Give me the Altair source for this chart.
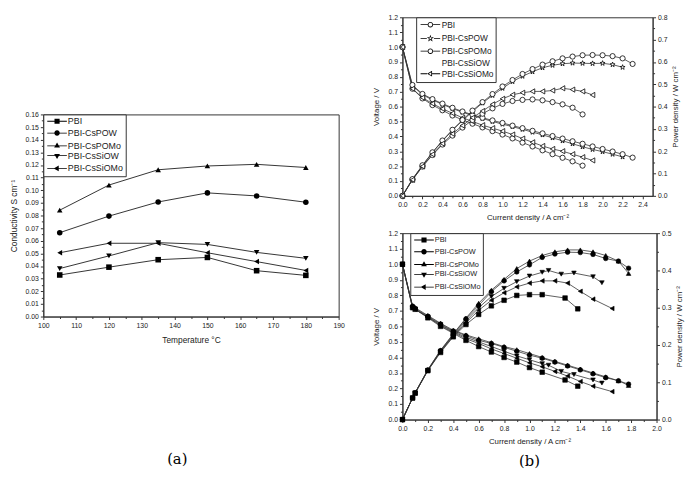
import altair as alt
import pandas as pd

FONT = "Liberation Sans"
SERIES = ["PBI", "PBI-CsPOW", "PBI-CsPOMo", "PBI-CsSiOW", "PBI-CsSiOMo"]

# ---------------- (a) conductivity vs temperature ----------------
temp_c = [105, 120, 135, 150, 165, 180]
a_pbi = [0.0329, 0.0391, 0.0450, 0.0468, 0.0363, 0.0326]
a_cspow = [0.0664, 0.0795, 0.0907, 0.0979, 0.0955, 0.0905]
a_cspomo = [0.0842, 0.1041, 0.1162, 0.1192, 0.1205, 0.1180]
a_cssiow = [0.0380, 0.0480, 0.0585, 0.0571, 0.0508, 0.0461]
a_cssiomo = [0.0505, 0.0580, 0.0580, 0.0505, 0.0435, 0.0365]

# ---------------- (b) top: polarisation / power curves ----------------
t_i_pbi = [0.0, 0.1, 0.2, 0.3, 0.4, 0.5, 0.6, 0.7, 0.8, 0.9, 1.0, 1.1, 1.2, 1.3, 1.4, 1.5, 1.6, 1.7, 1.8]
t_v_pbi = [1.0, 0.72, 0.655, 0.61, 0.575, 0.54, 0.51, 0.485, 0.46, 0.435, 0.412, 0.386, 0.358, 0.332, 0.306, 0.28, 0.256, 0.232, 0.203]
t_p_pbi = [0.0, 0.072, 0.131, 0.183, 0.23, 0.27, 0.306, 0.34, 0.368, 0.392, 0.412, 0.425, 0.43, 0.432, 0.428, 0.42, 0.41, 0.395, 0.365]

t_i_cspow = [0.0, 0.1, 0.2, 0.3, 0.4, 0.5, 0.6, 0.7, 0.8, 0.9, 1.0, 1.1, 1.2, 1.3, 1.4, 1.5, 1.6, 1.7, 1.8, 1.9, 2.0, 2.1, 2.2]
t_v_cspow = [1.0, 0.74, 0.68, 0.645, 0.615, 0.587, 0.562, 0.54, 0.52, 0.5, 0.482, 0.465, 0.447, 0.428, 0.41, 0.39, 0.37, 0.35, 0.33, 0.312, 0.297, 0.28, 0.262]
t_p_cspow = [0.0, 0.074, 0.136, 0.194, 0.246, 0.294, 0.337, 0.378, 0.416, 0.45, 0.482, 0.512, 0.536, 0.556, 0.574, 0.585, 0.592, 0.595, 0.594, 0.593, 0.594, 0.588, 0.576]

t_i_cspomo = [0.0, 0.1, 0.2, 0.3, 0.4, 0.5, 0.6, 0.7, 0.8, 0.9, 1.0, 1.1, 1.2, 1.3, 1.4, 1.5, 1.6, 1.7, 1.8, 1.9, 2.0, 2.1, 2.2, 2.3]
t_v_cspomo = [1.0, 0.745, 0.685, 0.65, 0.62, 0.592, 0.567, 0.545, 0.525, 0.507, 0.49, 0.472, 0.455, 0.437, 0.42, 0.402, 0.385, 0.367, 0.35, 0.332, 0.315, 0.298, 0.28, 0.257]
t_p_cspomo = [0.0, 0.075, 0.137, 0.195, 0.248, 0.296, 0.34, 0.382, 0.42, 0.456, 0.49, 0.519, 0.546, 0.568, 0.588, 0.603, 0.616, 0.624, 0.63, 0.631, 0.63, 0.626, 0.616, 0.591]

t_i_cssiomo = [0.0, 0.1, 0.2, 0.3, 0.4, 0.5, 0.6, 0.7, 0.8, 0.9, 1.0, 1.1, 1.2, 1.3, 1.4, 1.5, 1.6, 1.7, 1.8, 1.9]
t_v_cssiomo = [1.0, 0.72, 0.66, 0.62, 0.585, 0.555, 0.525, 0.5, 0.475, 0.455, 0.435, 0.412, 0.385, 0.36, 0.335, 0.315, 0.3, 0.28, 0.26, 0.238]
t_p_cssiomo = [0.0, 0.072, 0.132, 0.186, 0.234, 0.278, 0.315, 0.35, 0.38, 0.41, 0.435, 0.453, 0.462, 0.468, 0.468, 0.472, 0.482, 0.476, 0.468, 0.452]

# ---------------- (b) bottom ----------------
b_i_pbi = [0.0, 0.08, 0.1, 0.2, 0.3, 0.4, 0.5, 0.6, 0.7, 0.8, 0.9, 1.0, 1.1, 1.28, 1.38]
b_v_pbi = [1.0, 0.72, 0.71, 0.655, 0.6, 0.555, 0.51, 0.47, 0.435, 0.4, 0.37, 0.335, 0.305, 0.255, 0.215]
b_p_pbi = [0.0, 0.058, 0.071, 0.131, 0.18, 0.222, 0.255, 0.282, 0.305, 0.32, 0.333, 0.335, 0.335, 0.326, 0.297]

b_i_cspow = [0.0, 0.08, 0.1, 0.2, 0.3, 0.4, 0.5, 0.6, 0.7, 0.8, 0.9, 1.0, 1.1, 1.2, 1.3, 1.4, 1.5, 1.6, 1.7, 1.78]
b_v_cspow = [1.0, 0.73, 0.715, 0.665, 0.615, 0.57, 0.54, 0.51, 0.49, 0.465, 0.44, 0.415, 0.395, 0.37, 0.345, 0.32, 0.295, 0.27, 0.25, 0.228]
b_p_cspow = [0.0, 0.058, 0.072, 0.133, 0.185, 0.228, 0.27, 0.306, 0.343, 0.372, 0.396, 0.415, 0.435, 0.444, 0.449, 0.448, 0.443, 0.432, 0.425, 0.406]

b_i_cspomo = [0.0, 0.08, 0.1, 0.2, 0.3, 0.4, 0.5, 0.6, 0.7, 0.8, 0.9, 1.0, 1.1, 1.2, 1.3, 1.4, 1.5, 1.6, 1.7, 1.78]
b_v_cspomo = [1.0, 0.73, 0.72, 0.67, 0.62, 0.575, 0.545, 0.52, 0.495, 0.47, 0.45, 0.425, 0.4, 0.375, 0.35, 0.325, 0.3, 0.275, 0.25, 0.22]
b_p_cspomo = [0.0, 0.058, 0.072, 0.134, 0.186, 0.23, 0.272, 0.312, 0.347, 0.376, 0.405, 0.425, 0.44, 0.45, 0.455, 0.455, 0.45, 0.44, 0.425, 0.392]

b_i_cssiow = [0.0, 0.08, 0.1, 0.2, 0.3, 0.4, 0.5, 0.6, 0.7, 0.8, 0.9, 1.0, 1.1, 1.15, 1.25, 1.35, 1.5, 1.57]
b_v_cssiow = [1.0, 0.72, 0.71, 0.66, 0.61, 0.565, 0.53, 0.5, 0.47, 0.44, 0.41, 0.385, 0.36, 0.35, 0.31, 0.29, 0.255, 0.235]
b_p_cssiow = [0.0, 0.058, 0.071, 0.132, 0.183, 0.226, 0.265, 0.3, 0.33, 0.352, 0.37, 0.385, 0.395, 0.4, 0.39, 0.393, 0.383, 0.367]

b_i_cssiomo = [0.0, 0.08, 0.1, 0.2, 0.3, 0.4, 0.5, 0.6, 0.7, 0.8, 0.9, 1.0, 1.1, 1.2, 1.3, 1.4, 1.5, 1.65]
b_v_cssiomo = [1.0, 0.72, 0.71, 0.66, 0.605, 0.56, 0.52, 0.49, 0.455, 0.425, 0.395, 0.365, 0.34, 0.31, 0.28, 0.245, 0.215, 0.18]
b_p_cssiomo = [0.0, 0.058, 0.071, 0.132, 0.182, 0.224, 0.26, 0.293, 0.32, 0.34, 0.356, 0.366, 0.372, 0.372, 0.366, 0.344, 0.323, 0.298]

# ---------------- tick values ----------------
a_x_ticks = [100, 110, 120, 130, 140, 150, 160, 170, 180, 190]
a_x_minor = [105, 115, 125, 135, 145, 155, 165, 175, 185]
a_y_ticks = [round(0.01 * k, 2) for k in range(17)]
a_y_minor = [round(0.005 + 0.01 * k, 3) for k in range(16)]
t_x_ticks = [round(0.2 * k, 1) for k in range(13)]
t_x_minor = [round(0.1 + 0.2 * k, 1) for k in range(12)]
v_ticks = [round(0.1 * k, 1) for k in range(13)]
v_minor = [round(0.05 + 0.1 * k, 2) for k in range(12)]
t_p_ticks = [round(0.1 * k, 1) for k in range(9)]
t_p_minor = [round(0.05 + 0.1 * k, 2) for k in range(8)]
b_x_ticks = [round(0.2 * k, 1) for k in range(11)]
b_x_minor = [round(0.1 + 0.2 * k, 1) for k in range(10)]
b_p_ticks = [round(0.1 * k, 1) for k in range(6)]
b_p_minor = [round(0.05 + 0.1 * k, 2) for k in range(5)]

# ---------------- data frames ----------------
df_a = pd.DataFrame([
    {"series": nm, "T": t, "sigma": s}
    for nm, vals in zip(SERIES, [a_pbi, a_cspow, a_cspomo, a_cssiow, a_cssiomo])
    for t, s in zip(temp_c, vals)
])


def long_frame(groups):
    rows = []
    for name, xs, vs, ps in groups:
        for x, v, p in zip(xs, vs, ps):
            rows.append({"series": name, "I": x, "V": v, "P": p})
    return pd.DataFrame(rows)


df_t = long_frame([
    ("PBI", t_i_pbi, t_v_pbi, t_p_pbi),
    ("PBI-CsPOW", t_i_cspow, t_v_cspow, t_p_cspow),
    ("PBI-CsPOMo", t_i_cspomo, t_v_cspomo, t_p_cspomo),
    ("PBI-CsSiOMo", t_i_cssiomo, t_v_cssiomo, t_p_cssiomo),
])
df_b = long_frame([
    ("PBI", b_i_pbi, b_v_pbi, b_p_pbi),
    ("PBI-CsPOW", b_i_cspow, b_v_cspow, b_p_cspow),
    ("PBI-CsPOMo", b_i_cspomo, b_v_cspomo, b_p_cspomo),
    ("PBI-CsSiOW", b_i_cssiow, b_v_cssiow, b_p_cssiow),
    ("PBI-CsSiOMo", b_i_cssiomo, b_v_cssiomo, b_p_cssiomo),
])

# ---------------- styling helpers ----------------
INK = "#333333"
STAR_PTS = [(0, -1), (0.235, -0.324), (0.951, -0.309), (0.380, 0.124), (0.588, 0.809),
            (0, 0.4), (-0.588, 0.809), (-0.380, 0.124), (-0.951, -0.309), (-0.235, -0.324)]
STAR = "M" + "L".join(f"{x},{y}" for x, y in STAR_PTS) + "Z"


def major(values, fmt, title, orient, tpad, tsize, extra=None):
    kw = dict(values=values, format=fmt, title=title, orient=orient,
              titlePadding=tpad, labelFont=FONT, labelFontSize=7, labelColor="#222",
              titleFont=FONT, titleFontSize=tsize, titleColor="#222",
              titleFontWeight="normal", domainColor=INK, tickColor=INK,
              tickSize=3, labelPadding=2, grid=False, labelFlush=False)
    if extra:
        kw.update(extra)
    return alt.Axis(**kw)


def minor(values, orient):
    return alt.Axis(values=values, labels=False, title=None, orient=orient,
                    domain=False, tickSize=2, tickColor=INK, grid=False)


def n(v):
    return f"{v:.3f}"


def poly(pts, rev):
    if rev:
        pts = pts[::-1]
    return "M" + "L".join(f"{n(x)},{n(y)}" for x, y in pts) + "Z"


def circ(r, rev):
    s = 0 if rev else 1
    return f"M{n(-r)},0A{n(r)},{n(r)} 0 1,{s} {n(r)},0A{n(r)},{n(r)} 0 1,{s} {n(-r)},0Z"


def marker(kind, r, rev):
    if kind == "square":
        return poly([(-r, -r), (r, -r), (r, r), (-r, r)], rev)
    if kind == "circle":
        return circ(r, rev)
    if kind == "tu":
        return poly([(0, -r), (0.866 * r, 0.5 * r), (-0.866 * r, 0.5 * r)], rev)
    if kind == "td":
        return poly([(0, r), (-0.866 * r, -0.5 * r), (0.866 * r, -0.5 * r)], rev)
    if kind == "tl":
        return poly([(-r, 0), (0.5 * r, -0.866 * r), (0.5 * r, 0.866 * r)], rev)
    return poly([(x * r, y * r) for x, y in STAR_PTS], rev)


def extent(kind, r):
    return {"square": (r, r), "circle": (r, r), "tu": (0.866 * r, 0.866 * r),
            "td": (0.866 * r, 0.866 * r), "tl": (r, 0.5 * r), "star": (0.951 * r, 0.951 * r)}[kind]


def lg_path(kind, k, hollow):
    """Legend glyph '-o-' drawn only with filled areas (line = thin bar)."""
    if kind == "none":
        return "M0,0"
    u = 1.0 / k
    L, h, t = 10 * u, 0.45 * u, 0.85 * u
    r = {"square": 2.6, "circle": 2.8, "tu": 3.4, "td": 3.4, "tl": 3.4, "star": 3.8}[kind] * u
    out = marker(kind, r, False)
    if hollow:
        shrink = {"square": t, "circle": t, "tu": 2 * t, "td": 2 * t, "tl": 2 * t, "star": 2.4 * t}[kind]
        out += marker(kind, r - shrink, True)
        el, er = extent(kind, r)
        bars = [(-L, -el), (er, L)]
    else:
        bars = [(-L, L)]
    for a, b in bars:
        out += poly([(a, -h), (b, -h), (b, h), (a, h)], False)
    return out


def legend_layer(kinds, hollow, size, lx, ly, fsize, rowpad, pad):
    k = (size ** 0.5) / 2
    paths = [lg_path(kd, k, hollow) for kd in kinds]
    return alt.Chart(pd.DataFrame({"series": SERIES})).transform_filter("false").mark_point(
        filled=True, fill="black", size=size, opacity=1
    ).encode(
        shape=alt.Shape("series:N", scale=alt.Scale(domain=SERIES, range=paths),
                        legend=alt.Legend(title=None, orient="none", legendX=lx, legendY=ly,
                                          direction="vertical", strokeColor=INK, fillColor="white",
                                          padding=pad, labelFont=FONT, labelFontSize=fsize,
                                          labelColor="#222", rowPadding=rowpad, symbolSize=size,
                                          symbolFillColor="black", symbolOffset=7,
                                          labelOffset=6, cornerRadius=0))
    )


FILLED_SHAPES = ["square", "circle", "triangle-up", "triangle-down", "triangle-left"]
FILLED_KINDS = ["square", "circle", "tu", "td", "tl"]
OPEN_SHAPES = ["circle", STAR, "circle", "circle", "triangle-left"]
OPEN_KINDS = ["circle", "star", "circle", "none", "tl"]

# ---------------- panel (a) ----------------
ax_a = alt.Scale(domain=[100, 190], nice=False, zero=False)
ay_a = alt.Scale(domain=[0, 0.16], nice=False)
a_lines = alt.Chart(df_a).mark_line(color=INK, strokeWidth=1).encode(
    x=alt.X("T:Q", scale=ax_a, axis=major(a_x_ticks, "d", "Temperature \u00b0C", "bottom", 7, 8.5)),
    y=alt.Y("sigma:Q", scale=ay_a, axis=major(a_y_ticks, ".2f", "Conductivity S cm\u207b\u00b9", "left", 7, 8.5)),
    detail="series:N",
)
a_pts = alt.Chart(df_a).mark_point(filled=True, size=32, color="black", opacity=1).encode(
    x=alt.X("T:Q", scale=ax_a, axis=minor(a_x_minor, "bottom")),
    y=alt.Y("sigma:Q", scale=ay_a, axis=minor(a_y_minor, "left")),
    shape=alt.Shape("series:N", scale=alt.Scale(domain=SERIES, range=FILLED_SHAPES), legend=None),
)
a_leg = legend_layer(FILLED_KINDS, False, 72, 0, 0, 9, 0, 2)
panel_a = alt.layer(a_lines, a_pts, a_leg).resolve_scale(shape="independent").resolve_axis(
    x="independent", y="independent"
).properties(
    width=301, height=206,
    title=alt.TitleParams("(a)", orient="bottom", offset=111, font="DejaVu Serif",
                          fontSize=15, fontWeight="normal", color="black", anchor="middle",
                          dx=-14),
)

spacer = alt.Chart(pd.DataFrame({"v": [0]})).transform_filter("false").mark_point(opacity=0).encode(
    x=alt.X("v:Q", axis=None), y=alt.Y("v:Q", axis=None)
).properties(width=20, height=94, view=alt.ViewBackground(stroke=None))


# ---------------- panels (b) ----------------
def fuel_cell_panel(df, xmax, xticks, xminor, pmax, pticks, pminor, shapes, kinds, filled,
                    msize, legsize, lx, fsize, rowpad, width, height, title=None):
    xs = alt.Scale(domain=[0, xmax], nice=False)
    vs = alt.Scale(domain=[0, 1.2], nice=False)
    ps = alt.Scale(domain=[0, pmax], nice=False)
    xt = "Current density / A cm\u207b\u00b2"
    shp = alt.Shape("series:N", scale=alt.Scale(domain=SERIES, range=shapes), legend=None)
    if filled:
        pm = dict(filled=True, fill="black", stroke="black", strokeWidth=0.6, size=msize, opacity=1)
    else:
        pm = dict(filled=False, fill="white", stroke="black", strokeWidth=0.8, size=msize, opacity=1)
    v_line = alt.Chart(df).mark_line(color=INK, strokeWidth=0.8).encode(
        x=alt.X("I:Q", scale=xs, axis=major(xticks, ".1f", xt, "bottom", 6, 8)),
        y=alt.Y("V:Q", scale=vs, axis=major(v_ticks, ".1f", "Voltage / V", "left", 8, 8)),
        detail="series:N",
    )
    p_line = alt.Chart(df).mark_line(color=INK, strokeWidth=0.8).encode(
        x=alt.X("I:Q", scale=xs, axis=None),
        y=alt.Y("P:Q", scale=ps, axis=major(pticks, ".1f", "Power density / W cm\u207b\u00b2",
                                            "right", 5, 8,
                                            extra=dict(titleAngle=270, titleBaseline="top"))),
        detail="series:N",
    )
    v_pts = alt.Chart(df).mark_point(**pm).encode(
        x=alt.X("I:Q", scale=xs, axis=minor(xminor, "bottom")),
        y=alt.Y("V:Q", scale=vs, axis=minor(v_minor, "left")),
        shape=shp,
    )
    p_pts = alt.Chart(df).mark_point(**pm).encode(
        x=alt.X("I:Q", scale=xs, axis=None),
        y=alt.Y("P:Q", scale=ps, axis=minor(pminor, "right")),
        shape=shp,
    )
    leg = legend_layer(kinds, not filled, legsize, lx, 0, fsize, rowpad, 2)
    props = dict(width=width, height=height)
    if title is not None:
        props["title"] = title
    return alt.layer(v_line, p_line, v_pts, p_pts, leg).resolve_scale(
        y="independent", shape="independent"
    ).resolve_axis(x="independent", y="independent").properties(**props)


panel_b1 = fuel_cell_panel(df_t, 2.5, t_x_ticks, t_x_minor, 0.8, t_p_ticks, t_p_minor,
                           OPEN_SHAPES, OPEN_KINDS, False, 28, 81, 14, 8.5, 0, 255, 182)
panel_b2 = fuel_cell_panel(df_b, 2.0, b_x_ticks, b_x_minor, 0.5, b_p_ticks, b_p_minor,
                           FILLED_SHAPES, FILLED_KINDS, True, 22, 64, 8, 7.5, 0, 259, 190,
                           title=alt.TitleParams("(b)", orient="bottom", offset=9,
                                                 font="DejaVu Serif", fontSize=15,
                                                 fontWeight="normal", color="black",
                                                 anchor="middle"))

left = alt.vconcat(spacer, panel_a, spacing=0)
right = alt.vconcat(panel_b1, panel_b2, spacing=6)

chart = alt.hconcat(left, right, spacing=26).properties(
    padding={"left": 0, "top": 0, "right": 0, "bottom": 0}
).configure(font=FONT).configure_view(stroke=INK, strokeWidth=1)

chart.save("out.html", embed_options={"renderer": "svg", "actions": False})
